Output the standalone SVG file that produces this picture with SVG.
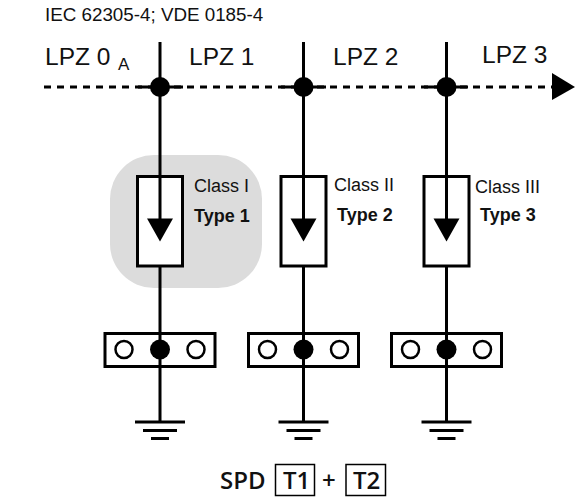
<svg xmlns="http://www.w3.org/2000/svg" width="579" height="502" viewBox="0 0 579 502">
<style>
text{font-family:"Liberation Sans",Arial,sans-serif;fill:#111}
.z{font-size:24.500px}.c{font-size:18px}.t{font-size:18px;font-weight:700}
.s{font-family:"Open Sans",sans-serif;font-size:24px;font-weight:600}
.l{stroke:#000;stroke-width:3;fill:none}
.th{stroke:#000;stroke-width:3;fill:none}
.box{fill:#fff;stroke:#000;stroke-width:3}
.o{fill:#fff;stroke:#000;stroke-width:2.500}
</style>
<defs>
<g id="spd">
<rect class="box" x="-22.500" y="0" width="45" height="89.500"/>
<path d="M-13 42H13L0 65Z"/>
</g>
<g id="bar">
<rect class="box" x="-55" y="0" width="110" height="33"/>
<circle class="o" cx="-36" cy="16" r="8.500"/>
<circle class="o" cx="36" cy="16" r="8.500"/>
</g>
<g id="gnd">
<path d="M-25 0H25M-17 8.500H17M-9 16.500H9" class="th"/>
</g>
</defs>
<text x="45" y="21" style="font-size:18.800px">IEC 62305-4; VDE 0185-4</text>
<g id="zones">
<text class="z" x="45" y="65">LPZ 0</text><text x="118" y="70" style="font-size:17px">A</text>
<text class="z" x="189" y="65">LPZ 1</text>
<text class="z" x="333" y="65">LPZ 2</text>
<text class="z" x="482" y="63">LPZ 3</text>
</g>
<rect id="highlight" x="110" y="155" width="152" height="133" rx="44" fill="#dcdcdc"/>
<g id="spd1"><use href="#spd" x="160" y="176.500"/><text class="c" x="194" y="192">Class I</text><text class="t" x="194" y="222">Type 1</text></g>
<g id="spd2"><use href="#spd" x="303.500" y="176.500"/><text class="c" x="334" y="191">Class II</text><text class="t" x="337" y="221">Type 2</text></g>
<g id="spd3"><use href="#spd" x="446.500" y="176.500"/><text class="c" x="475" y="193">Class III</text><text class="t" x="480" y="221">Type 3</text></g>
<g id="bar1"><use href="#bar" x="160" y="333.500"/></g>
<g id="bar2"><use href="#bar" x="303.500" y="333.500"/></g>
<g id="bar3"><use href="#bar" x="446.500" y="333.500"/></g>
<g id="connectors">
<path class="l" d="M44 87H555" stroke-dasharray="7 6"/>
<path class="l" d="M138 87H183M281 87H326M424 87H468"/>
<path class="l" d="M160 42V222M303.500 42V222M446.500 42V222M160 266V422M303.500 266V422M446.500 266V422"/>
<path d="M552 73L575 87L552 100Z"/>
</g>
<g id="junction1"><circle cx="160" cy="87" r="10"/></g>
<g id="junction2"><circle cx="303.500" cy="87" r="10"/></g>
<g id="junction3"><circle cx="446.500" cy="87" r="10"/></g>
<g id="terminal1"><circle cx="160" cy="349.500" r="10"/></g>
<g id="terminal2"><circle cx="303.500" cy="349.500" r="10"/></g>
<g id="terminal3"><circle cx="446.500" cy="349.500" r="10"/></g>
<g id="ground1"><use href="#gnd" x="160" y="422"/></g>
<g id="ground2"><use href="#gnd" x="303.500" y="422"/></g>
<g id="ground3"><use href="#gnd" x="446.500" y="422"/></g>
<g id="legend">
<text class="s" x="220" y="489">SPD</text>
<rect x="275.500" y="464.500" width="39" height="31" fill="none" stroke="#000" stroke-width="1.500"/>
<text class="s" x="283" y="489">T1</text>
<text class="s" x="322" y="489">+</text>
<rect x="346" y="464.500" width="39.500" height="31" fill="none" stroke="#000" stroke-width="1.500"/>
<text class="s" x="353" y="489">T2</text>
</g>
</svg>
